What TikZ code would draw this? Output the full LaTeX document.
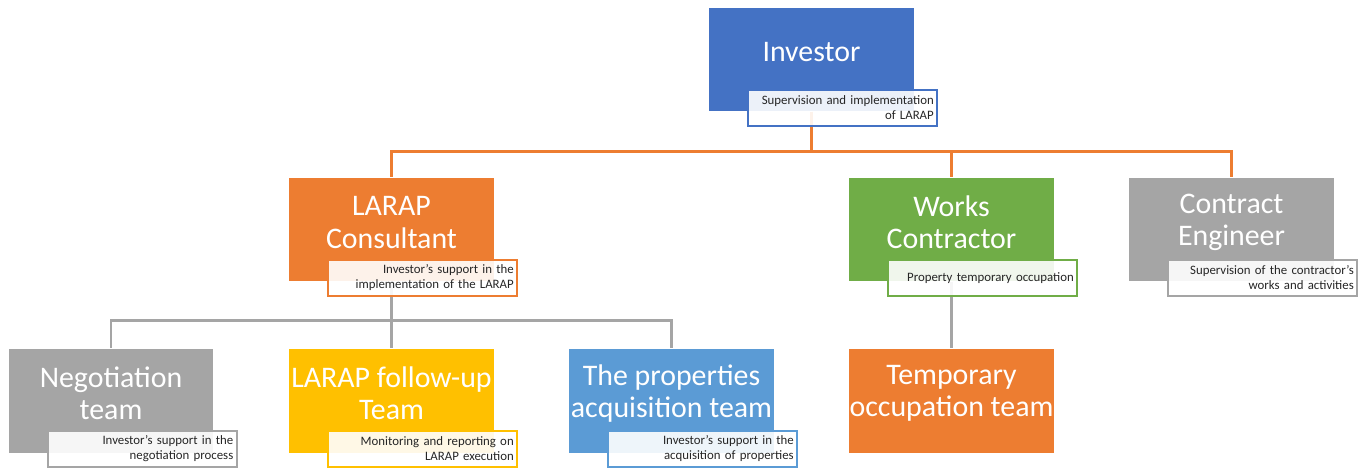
\documentclass[tikz,border=0pt]{standalone}
\usepackage{fontspec}
\setmainfont{Carlito}
\usetikzlibrary{backgrounds}
\definecolor{invblue}{HTML}{4472C4}
\definecolor{orgorange}{HTML}{ED7D31}
\definecolor{orggreen}{HTML}{70AD47}
\definecolor{orggray}{HTML}{A5A5A5}
\definecolor{orggold}{HTML}{FFC000}
\definecolor{orgsky}{HTML}{5B9BD5}

\begin{document}
\begin{tikzpicture}[x=0.02cm, y=-0.02cm]
			\tikzstyle{unitbox}=[rectangle,minimum width=4.1cm,minimum height=2.08cm,inner sep=0pt]
			\tikzstyle{unittitle}=[text=white,align=center,inner sep=0pt,font=\fontsize{17}{18.4}\selectfont]
			\tikzstyle{rolebox}=[rectangle,draw,line width=1.2pt,fill=white,fill opacity=0.9,text opacity=1,text=black!85,
				align=right,text width=3.64cm,inner xsep=0.07cm,inner ysep=0pt,minimum height=0.72cm,
				anchor=south east,font=\fontsize{7.3}{8.5}\selectfont]
			\tikzstyle{orgline}=[line width=1.7pt]
			\useasboundingbox (0,0) rectangle (1364,467);
			% top
			\node[unitbox,fill=invblue](investor) at (811.5,59.5){};
			\node[unittitle](investortitle) at ([yshift=4pt]investor.center){Investor};
			\node[rolebox,draw=invblue](investorrole) at ([shift={(24,15)}]investor.south east){Supervision and implementation\\of LARAP};
			% second row
			\node[unitbox,fill=orgorange](consultant) at (391.5,229.5){};
			\node[unittitle](consultanttitle) at ([yshift=4pt]consultant.center){LARAP\\Consultant};
			\node[rolebox,draw=orgorange](consultantrole) at ([shift={(24,15)}]consultant.south east){Investor's support in the\\implementation of the LARAP};
			\node[unitbox,fill=orggreen](contractor) at (951.5,229.5){};
			\node[unittitle](contractortitle) at ([yshift=4pt]contractor.center){Works\\Contractor};
			\node[rolebox,draw=orggreen](contractorrole) at ([shift={(24,15)}]contractor.south east){Property temporary occupation};
			\node[unitbox,fill=orggray](engineer) at (1231.5,229.5){};
			\node[unittitle](engineertitle) at ([yshift=4pt]engineer.center){Contract\\Engineer};
			\node[rolebox,draw=orggray](engineerrole) at ([shift={(24,15)}]engineer.south east){Supervision of the contractor's\\works and activities};
			% third row
			\node[unitbox,fill=orggray](negotiation) at (111,400.5){};
			\node[unittitle](negotiationtitle) at ([yshift=4pt]negotiation.center){Negotiation\\team};
			\node[rolebox,draw=orggray](negotiationrole) at ([shift={(24,15)}]negotiation.south east){Investor's support in the\\negotiation process};
			\node[unitbox,fill=orggold](followup) at (391.5,400.5){};
			\node[unittitle](followuptitle) at ([yshift=4pt]followup.center){LARAP follow-up\\Team};
			\node[rolebox,draw=orggold](followuprole) at ([shift={(24,15)}]followup.south east){Monitoring and reporting on\\LARAP execution};
			\node[unitbox,fill=orgsky](acquisition) at (671.5,400.5){};
			\node[unittitle](acquisitiontitle) at ([yshift=4pt]acquisition.center){The properties\\acquisition team};
			\node[rolebox,draw=orgsky](acquisitionrole) at ([shift={(24,15)}]acquisition.south east){Investor's support in the\\acquisition of properties};
			\node[unitbox,fill=orgorange](occupation) at (951.5,400.5){};
			\node[unittitle](occupationtitle) at ([yshift=4pt]occupation.center){Temporary\\occupation team};
			% connectors
			\begin{scope}[on background layer]
			\foreach \child in {consultant,contractor,engineer}
				\draw[orgline,orgorange] (investor.south) -- ++(0,40) -| (\child.north);
			\foreach \child in {negotiation,followup,acquisition}
				\draw[orgline,orggray] (consultant.south) -- ++(0,39) -| (\child.north);
			\draw[orgline,orggray] (contractor.south) -- (occupation.north);
			\end{scope}
\end{tikzpicture}
\end{document}
